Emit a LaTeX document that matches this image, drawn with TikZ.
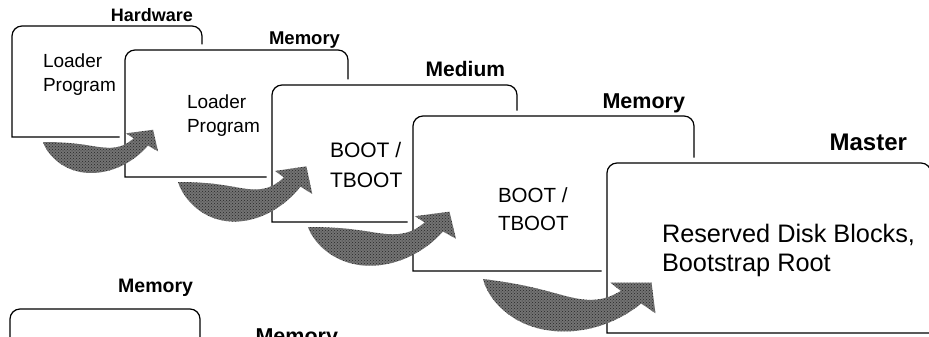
\documentclass[tikz,border=0pt]{standalone}
\usepackage{fontspec}
\setmainfont{Liberation Sans}
\usetikzlibrary{patterns}
\tikzset{
  cardline/.style={draw=black,line width=1.2pt},
  halo/.style={draw=white,line width=11pt},
  lbl/.style={inner sep=0pt,outer sep=0pt},
  arrowfill/.style={fill=black!55},
  arrowdots/.style={pattern=crosshatch dots,pattern color=black!85},
}
\newcommand\mycard[4]{%
  \draw[halo] (#1,#4) -- (#1,#2+10) arc[start angle=180,end angle=90,radius=10pt] -- (#3-10,#2) arc[start angle=90,end angle=0,radius=10pt] -- (#3,#4);
  \fill[white] (#1,#4) -- (#1,#2+10) arc[start angle=180,end angle=90,radius=10pt] -- (#3-10,#2) arc[start angle=90,end angle=0,radius=10pt] -- (#3,#4) -- cycle;
  \draw[cardline] (#1,#4) -- (#1,#2+10) arc[start angle=180,end angle=90,radius=10pt] -- (#3-10,#2) arc[start angle=90,end angle=0,radius=10pt] -- (#3,#4) -- cycle;
}
\newcommand\bigarrow[1]{%
  \begin{scope}[#1]
    \fill[arrowfill] (0,0) .. controls (50,0) and (62,9) .. (82,8) .. controls (94,7) and (101,2) .. (108,-5) -- (99,-12) -- (131,-17) -- (137,13) -- (125,5) .. controls (108,28) and (82,44) .. (55,43) .. controls (26,42) and (6,20) .. (0,0) -- cycle;
    \fill[arrowdots] (0,0) .. controls (50,0) and (62,9) .. (82,8) .. controls (94,7) and (101,2) .. (108,-5) -- (99,-12) -- (131,-17) -- (137,13) -- (125,5) .. controls (108,28) and (82,44) .. (55,43) .. controls (26,42) and (6,20) .. (0,0) -- cycle;
  \end{scope}
}
\begin{document}
\begin{tikzpicture}[x=1pt,y=-1pt]
\useasboundingbox (0,0) rectangle (929,337);
\clip (0,0) rectangle (929,337);
\fill[white] (0,0) rectangle (929,337);

% card 1
\mycard{12}{26}{202}{137}
\node[lbl,anchor=base east,font=\fontsize{18}{18}\selectfont\bfseries] (l1) at (193,22) {Hardware};
\node[lbl,anchor=base west,font=\fontsize{19}{19}\selectfont] (t1a) at (43,68) {Loader};
\node[lbl,anchor=base west,font=\fontsize{19}{19}\selectfont] (t1b) at (43,92) {Program};

% card 2
\mycard{125}{50}{348}{177}
\node[lbl,anchor=base east,font=\fontsize{18.5}{18.5}\selectfont\bfseries] (l2) at (340,45) {Memory};
\node[lbl,anchor=base west,font=\fontsize{19}{19}\selectfont] (t2a) at (187,108) {Loader};
\node[lbl,anchor=base west,font=\fontsize{19}{19}\selectfont] (t2b) at (187,132) {Program};
\bigarrow{shift={(43,142)},xscale=0.84,yscale=0.72}

% card 3
\mycard{272}{85}{517}{222}
\node[lbl,anchor=base east,font=\fontsize{21}{21}\selectfont\bfseries] (l3) at (505,77) {Medium};
\node[lbl,anchor=base west,font=\fontsize{21}{21}\selectfont] (t3a) at (330,157) {BOOT /};
\node[lbl,anchor=base west,font=\fontsize{21}{21}\selectfont] (t3b) at (330,187) {TBOOT};
\bigarrow{shift={(178,182)},xscale=0.98,yscale=0.92}

% card 4
\mycard{413}{116}{694}{271}
\node[lbl,anchor=base east,font=\fontsize{21.5}{21.5}\selectfont\bfseries] (l4) at (685,108) {Memory};
\node[lbl,anchor=base west,font=\fontsize{20.5}{20.5}\selectfont] (t4a) at (498,202) {BOOT /};
\node[lbl,anchor=base west,font=\fontsize{20.5}{20.5}\selectfont] (t4b) at (498,230) {TBOOT};
\bigarrow{shift={(308,227)},xscale=1.08,yscale=0.9}

% card 5
\mycard{607}{163}{931}{333}
\node[lbl,anchor=base east,font=\fontsize{24}{24}\selectfont\bfseries] (l5) at (907,150) {Master};
\node[lbl,anchor=base west,font=\fontsize{25.3}{25.3}\selectfont] (t5a) at (662,242) {Reserved Disk Blocks,};
\node[lbl,anchor=base west,font=\fontsize{25.3}{25.3}\selectfont] (t5b) at (662,271) {Bootstrap Root};
\bigarrow{shift={(483,279)},rotate=-7,xscale=1.28,yscale=1.0}

% bottom row
\mycard{10}{309}{200}{400}
\node[lbl,anchor=base east,font=\fontsize{19.5}{19.5}\selectfont\bfseries] (l6) at (193,292) {Memory};
\node[lbl,anchor=base east,font=\fontsize{21.5}{21.5}\selectfont\bfseries] (l7) at (338,343) {Memory};
\end{tikzpicture}
\end{document}
